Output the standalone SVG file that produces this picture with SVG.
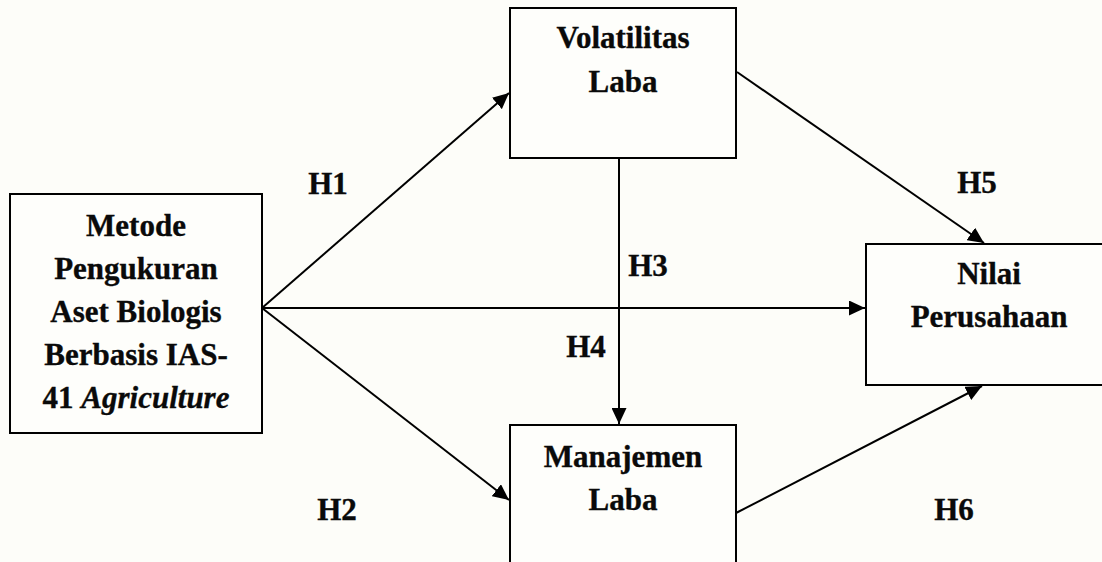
<svg xmlns="http://www.w3.org/2000/svg" width="1102" height="562" viewBox="0 0 1102 562">
  <style>
    .box { fill: #fefefb; stroke: #000; stroke-width: 2; }
    .t { font-family: "Liberation Serif", "Times New Roman", serif; font-weight: bold; font-size: 31px; fill: #0a0a0a; stroke: #0a0a0a; stroke-width: 0.35; text-anchor: middle; }
    .it { font-style: italic; }
    .conn { stroke: #000; stroke-width: 2; fill: none; marker-end: url(#arr); }
  </style>
  <defs>
    <marker id="arr" markerUnits="userSpaceOnUse" markerWidth="17" markerHeight="15" refX="16" refY="7.5" orient="auto">
      <path d="M0,0 L16,7.5 L0,15 z" fill="#000"/>
    </marker>
  </defs>
  <rect x="0" y="0" width="1102" height="562" fill="#fdfdf9"/>

  <g id="connectors">
    <line class="conn" x1="262" y1="308" x2="509" y2="93"/>
    <line class="conn" x1="262" y1="308" x2="865" y2="308"/>
    <line class="conn" x1="262" y1="308" x2="509" y2="500"/>
    <line class="conn" x1="619" y1="158" x2="619" y2="424"/>
    <line class="conn" x1="737" y1="72" x2="984" y2="243"/>
    <line class="conn" x1="736" y1="513" x2="982" y2="386"/>
  </g>

  <g id="node-metode">
    <rect class="box" x="10" y="194" width="252" height="239"/>
    <text class="t" x="136" y="236">Metode</text>
    <text class="t" x="136" y="279">Pengukuran</text>
    <text class="t" x="136" y="322">Aset Biologis</text>
    <text class="t" x="136" y="365">Berbasis IAS-</text>
    <text class="t" x="136" y="408">41 <tspan class="it">Agriculture</tspan></text>
  </g>

  <g id="node-volatilitas">
    <rect class="box" x="510" y="8" width="226" height="150"/>
    <text class="t" x="623" y="48">Volatilitas</text>
    <text class="t" x="623" y="92">Laba</text>
  </g>

  <g id="node-manajemen">
    <rect class="box" x="510" y="425" width="226" height="150"/>
    <text class="t" x="623" y="467">Manajemen</text>
    <text class="t" x="623" y="510">Laba</text>
  </g>

  <g id="node-nilai">
    <rect class="box" x="866" y="244" width="250" height="141"/>
    <text class="t" x="989" y="284">Nilai</text>
    <text class="t" x="989" y="327">Perusahaan</text>
  </g>

  <g id="labels">
    <text class="t" x="328" y="194">H1</text>
    <text class="t" x="337" y="520">H2</text>
    <text class="t" x="648" y="276">H3</text>
    <text class="t" x="586" y="357">H4</text>
    <text class="t" x="977" y="193">H5</text>
    <text class="t" x="954" y="520">H6</text>
  </g>
</svg>
